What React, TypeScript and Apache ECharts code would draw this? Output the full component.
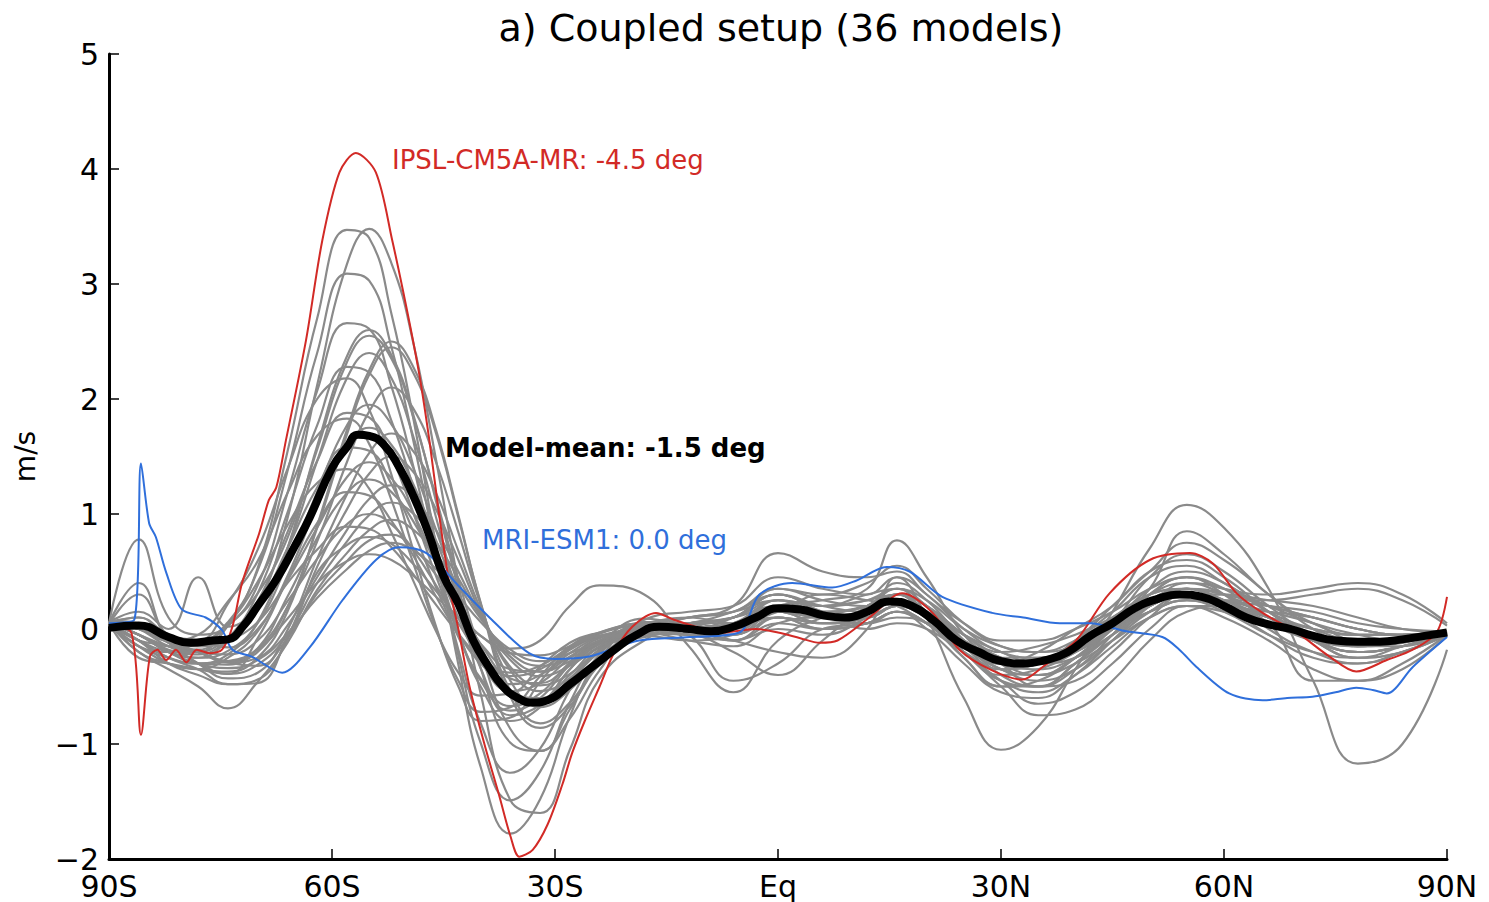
import React, { useEffect, useRef } from "react";
import * as echarts from "echarts";

// latitude grid for the grey model curves
const latGrid = [-90,-86,-82,-78,-74,-70,-66,-62,-58,-55,-52,-49,-46,-43,-40,-36,-32,-28,-24,-18,-12,-6,0,6,12,16,20,25,30,35,40,45,50,55,60,66,72,78,84,90];

const gray01 = [0.06,0.02,-0.12,-0.18,0.03,0.53,1.54,2.70,3.47,3.40,2.74,1.81,0.73,-0.31,-1.20,-1.78,-1.48,-0.76,-0.26,0.03,0.0,0.1,0.3,0.2,0.25,0.35,0.2,-0.1,-0.35,-0.4,-0.25,0.0,0.3,0.45,0.35,0.1,-0.1,-0.2,-0.15,-0.05];
const gray02 = [0.04,-0.05,-0.2,-0.25,-0.1,0.2,0.96,2.12,3.17,3.48,3.18,2.47,1.47,0.40,-0.56,-1.49,-1.60,-1.05,-0.43,-0.10,0.05,0.0,0.15,0.05,0.1,0.2,0.1,-0.2,-0.4,-0.35,-0.2,0.05,0.35,0.5,0.4,0.15,0.0,-0.1,-0.1,-0.02];
const gray03 = [0.05,0.1,-0.05,-0.1,0.06,0.51,1.37,2.40,3.09,3.03,2.45,1.62,0.67,-0.23,-0.99,-1.49,-1.24,-0.64,-0.22,0.08,0.15,0.2,0.45,0.35,0.3,0.45,0.3,0.0,-0.2,-0.25,-0.15,0.0,0.2,0.3,0.2,0.05,-0.05,-0.1,-0.08,-0.03];
const gray04 = [0.05,0.78,0.1,-0.05,0.03,0.38,1.18,2.07,2.66,2.61,2.11,1.40,0.58,-0.18,-0.82,-1.25,-1.04,-0.53,-0.18,-0.01,-0.05,-0.1,0.1,0.0,0.05,0.15,0.0,-0.3,-0.55,-0.6,-0.4,-0.1,0.2,0.4,0.35,0.2,0.05,-0.05,-0.1,-0.05];
const gray05 = [0.03,-0.1,-0.25,-0.3,-0.22,0.06,0.70,1.59,2.37,2.6,2.38,1.85,1.11,0.35,-0.34,-0.99,-1.06,-0.70,-0.29,0.02,0.1,0.15,0.35,0.3,0.4,0.55,0.35,0.05,-0.15,-0.2,-0.1,0.1,0.3,0.35,0.25,0.1,-0.05,-0.15,-0.1,-0.02];
const gray06 = [0.07,0.05,-0.08,-0.12,0.03,0.31,0.79,1.56,2.32,2.55,2.35,1.83,1.14,0.43,-0.20,-0.87,-1.06,-0.78,-0.36,0.06,0.05,-0.1,0.0,-0.05,0.1,0.25,0.15,-0.15,-0.35,-0.45,-0.35,-0.1,0.15,0.3,0.3,0.25,0.2,0.1,0.0,-0.03];
const gray07 = [0.04,-0.15,-0.3,-0.35,-0.37,-0.25,0.15,0.90,1.73,2.25,2.5,2.27,1.73,0.99,0.22,-0.59,-0.86,-0.67,-0.31,-0.04,-0.05,-0.2,-0.4,-0.1,0.2,0.3,0.1,-0.2,-0.45,-0.5,-0.3,0.0,0.25,0.35,0.2,-0.05,-0.25,-0.3,-0.2,-0.05];
const gray08 = [0.05,0.0,-0.15,-0.2,-0.28,-0.2,0.19,0.88,1.69,2.21,2.45,2.22,1.70,0.97,0.23,-0.54,-0.82,-0.64,-0.30,0.01,0.05,0.15,0.3,0.15,0.1,0.2,0.15,-0.05,-0.2,-0.3,-0.25,-0.05,0.2,0.3,0.25,0.15,0.05,-0.1,-0.1,-0.04];
const gray09 = [0.06,0.15,0.0,0.45,0.02,0.19,0.70,1.46,2.18,2.4,2.18,1.66,0.97,0.24,-0.34,-0.75,-0.66,-0.35,-0.12,0.09,0.0,-0.1,-0.2,-0.25,0.0,0.45,0.1,-0.6,-1.05,-0.85,-0.35,0.15,0.7,1.08,0.88,0.35,-0.45,-1.17,-1.0,-0.18];
const gray10 = [0.05,-0.05,-0.18,-0.22,-0.08,0.31,1.01,1.77,2.28,2.23,1.81,1.22,0.57,-0.02,-0.50,-0.80,-0.68,-0.35,-0.12,-0.06,0.0,0.05,0.2,0.1,0.15,0.3,0.15,-0.15,-0.3,-0.3,-0.2,0.0,0.25,0.35,0.3,0.1,-0.05,-0.15,-0.12,-0.03];
const gray11 = [0.04,0.05,-0.1,-0.1,0.22,0.69,1.39,2.0,2.18,1.91,1.34,0.67,0.02,-0.50,-0.80,-0.77,-0.46,-0.17,-0.04,0.05,0.1,0.05,0.15,0.3,0.25,0.2,0.05,-0.15,-0.3,-0.2,0.0,0.2,0.5,0.6,0.45,0.15,-0.1,-0.25,-0.2,-0.05];
const gray12 = [0.05,0.4,-0.1,-0.2,-0.28,-0.17,0.19,0.76,1.45,1.89,2.1,1.91,1.45,0.84,0.21,-0.45,-0.68,-0.53,-0.25,-0.03,-0.1,-0.15,0.05,0.1,0.05,0.1,0.05,-0.2,-0.45,-0.65,-0.55,-0.3,0.0,0.2,0.2,0.1,0.0,-0.05,-0.05,-0.02];
const gray13 = [0.06,-0.1,-0.2,-0.25,-0.19,0.05,0.57,1.19,1.77,1.95,1.78,1.39,0.86,0.32,-0.16,-0.59,-0.65,-0.43,-0.18,0.03,0.05,0.1,0.35,0.25,0.2,0.3,0.2,-0.05,-0.25,-0.3,-0.15,0.05,0.3,0.4,0.3,0.1,-0.1,-0.2,-0.15,-0.04];
const gray14 = [0.05,0.05,-0.05,-0.15,-0.1,0.24,0.84,1.46,1.88,1.84,1.50,1.00,0.46,-0.04,-0.45,-0.71,-0.60,-0.31,-0.11,-0.01,0.05,0.05,0.25,0.2,0.3,0.35,0.1,-0.25,-0.5,-0.45,-0.25,0.05,0.45,0.65,0.5,0.2,-0.05,-0.15,-0.1,-0.02];
const gray15 = [0.04,0.0,-0.1,-0.05,0.24,0.59,1.18,1.68,1.83,1.61,1.12,0.56,0.0,-0.45,-0.72,-0.68,-0.41,-0.15,-0.03,0.05,-0.05,-0.05,0.15,0.05,0.1,0.2,0.1,-0.1,-0.25,-0.3,-0.2,0.0,0.15,0.25,0.2,0.15,0.1,0.0,-0.05,-0.03];
const gray16 = [0.05,-0.2,-0.3,-0.35,-0.25,-0.02,0.46,1.07,1.59,1.75,1.60,1.25,0.77,0.28,-0.15,-0.55,-0.60,-0.40,-0.16,-0.07,0.0,0.05,0.25,0.15,0.2,0.4,0.25,-0.1,-0.4,-0.5,-0.35,-0.05,0.3,0.45,0.3,0.0,-0.2,-0.3,-0.2,-0.05];
const gray17 = [0.06,0.1,-0.12,-0.3,-0.43,-0.38,-0.01,0.61,1.17,1.53,1.7,1.54,1.18,0.68,0.17,-0.36,-0.54,-0.43,-0.20,0.03,0.1,0.2,0.66,0.5,0.45,0.5,0.3,0.05,-0.1,-0.1,0.0,0.15,0.35,0.45,0.35,0.3,0.35,0.4,0.3,0.05];
const gray18 = [0.05,-0.05,-0.15,-0.2,-0.07,0.19,0.70,1.23,1.58,1.55,1.26,0.84,0.36,-0.07,-0.43,-0.67,-0.56,-0.29,-0.10,-0.01,-0.05,0.0,0.1,0.0,0.15,0.3,0.2,-0.15,-0.35,-0.3,-0.15,0.0,0.15,0.25,0.15,-0.05,-0.2,-0.25,-0.15,-0.04];
const gray19 = [0.05,-0.1,-0.25,-0.35,-0.48,-0.44,-0.09,0.54,1.04,1.35,1.5,1.36,1.04,0.60,0.14,-0.33,-0.49,-0.39,-0.18,0.03,0.0,-0.05,0.2,0.25,0.35,0.77,0.45,-0.05,-0.3,-0.5,-0.45,-0.2,0.1,0.3,0.3,0.2,0.1,0.0,-0.05,-0.02];
const gray20 = [0.04,0.3,-0.05,-0.1,-0.16,0.0,0.42,0.88,1.32,1.45,1.31,1.00,0.56,0.10,-0.28,-0.54,-0.47,-0.25,-0.08,-0.01,0.05,0.1,0.2,0.1,0.1,0.2,0.15,-0.05,-0.2,-0.15,-0.05,0.1,0.3,0.35,0.25,0.1,0.0,-0.05,-0.05,-0.03];
const gray21 = [0.05,-0.15,-0.2,-0.2,0.04,0.41,0.90,1.27,1.39,1.22,0.84,0.41,-0.02,-0.38,-0.58,-0.56,-0.33,-0.12,-0.03,0.05,-0.05,-0.45,-0.3,0.0,0.05,0.15,0.05,-0.2,-0.5,-0.75,-0.7,-0.45,-0.1,0.15,0.2,0.1,-0.05,-0.15,-0.1,-0.04];
const gray22 = [0.06,-0.05,-0.2,-0.3,-0.31,-0.17,0.28,0.79,1.18,1.3,1.19,0.93,0.57,0.19,-0.13,-0.43,-0.47,-0.31,-0.13,-0.02,0.05,0.1,0.3,0.2,0.15,0.25,0.15,-0.1,-0.3,-0.3,-0.1,0.15,0.45,0.55,0.4,0.15,-0.1,-0.25,-0.2,-0.05];
const gray23 = [0.05,0.0,-0.1,-0.2,-0.29,-0.25,0.03,0.45,0.86,1.13,1.25,1.14,0.86,0.50,0.12,-0.27,-0.41,-0.32,-0.15,0.03,0.0,0.0,0.15,0.1,0.15,0.3,0.2,-0.1,-0.3,-0.4,-0.3,-0.1,0.1,0.2,0.15,0.05,-0.1,-0.2,-0.15,-0.04];
const gray24 = [0.05,-0.25,-0.3,-0.35,-0.39,-0.08,0.43,0.92,1.19,1.16,0.94,0.63,0.28,-0.04,-0.30,-0.48,-0.40,-0.21,-0.07,0.0,0.1,0.15,0.25,0.15,0.0,0.05,0.0,-0.2,-0.35,-0.3,-0.1,0.2,0.5,0.75,0.6,0.3,0.0,-0.15,-0.15,-0.03];
const gray25 = [0.04,-0.1,-0.15,-0.3,-0.39,-0.31,-0.05,0.40,0.76,0.99,1.1,1.0,0.76,0.44,0.11,-0.24,-0.37,-0.28,-0.13,0.03,0.0,-0.1,0.05,0.0,0.05,0.15,0.05,-0.2,-0.45,-0.55,-0.4,-0.15,0.1,0.2,0.1,-0.1,-0.35,-0.45,-0.35,-0.06];
const gray26 = [0.05,0.05,-0.1,-0.2,-0.22,-0.1,0.24,0.61,0.91,1.0,0.91,0.68,0.38,0.05,-0.22,-0.41,-0.35,-0.18,-0.06,0.0,0.05,0.1,0.25,0.15,0.2,0.35,0.25,0.0,-0.15,-0.2,-0.15,0.0,0.2,0.3,0.25,0.2,0.15,0.05,0.0,-0.02];
const gray27 = [0.05,-0.2,-0.35,-0.5,-0.69,-0.46,-0.12,0.34,0.66,0.86,0.95,0.86,0.65,0.38,0.09,-0.21,-0.32,-0.25,-0.12,0.04,-0.05,-0.05,0.1,0.05,0.05,0.15,0.05,-0.25,-0.5,-0.5,-0.3,-0.05,0.2,0.3,0.2,0.05,-0.1,-0.2,-0.15,-0.04];
const gray28 = [0.06,-0.05,-0.15,-0.15,-0.10,0.06,0.40,0.69,0.89,0.87,0.71,0.47,0.21,-0.04,-0.25,-0.38,-0.32,-0.16,-0.06,0.0,0.0,0.05,0.2,0.15,0.2,0.3,0.15,-0.1,-0.25,-0.25,-0.15,0.05,0.35,0.85,0.65,0.3,0.05,-0.05,-0.05,-0.02];
const gray29 = [0.05,0.0,-0.1,-0.2,-0.29,-0.32,-0.08,0.31,0.59,0.77,0.82,0.70,0.47,0.18,-0.06,-0.17,-0.1,0.2,0.38,0.3,-0.15,-0.55,-0.1,0.1,0.2,0.3,0.1,-0.15,-0.3,-0.3,-0.15,0.05,0.25,0.35,0.25,0.05,-0.1,-0.15,-0.1,-0.03];
const gray30 = [0.05,-0.1,-0.3,-0.4,-0.48,-0.47,-0.07,0.49,0.73,0.8,0.74,0.56,0.33,0.09,-0.13,-0.35,-0.37,-0.24,-0.10,-0.01,0.0,0.05,0.1,0.05,0.1,0.2,0.1,-0.15,-0.35,-0.4,-0.25,0.0,0.2,0.3,0.2,0.05,-0.45,-0.45,-0.3,-0.05];
const gray31 = [0.05,-0.05,-0.2,-0.3,-0.34,-0.27,-0.04,0.27,0.52,0.68,0.75,0.68,0.52,0.29,0.06,-0.18,-0.28,-0.21,-0.10,0.04,0.05,0.1,0.3,0.2,0.25,0.3,0.2,-0.05,-0.25,-0.3,-0.2,0.0,0.25,0.35,0.3,0.2,0.1,0.0,-0.05,-0.02];
const gray32 = [0.04,-0.15,-0.25,-0.3,-0.28,-0.18,0.09,0.40,0.59,0.65,0.60,0.46,0.28,0.10,-0.06,-0.21,-0.23,-0.15,-0.06,-0.06,-0.1,-0.05,0.15,0.1,0.1,0.2,0.1,-0.15,-0.3,-0.35,-0.25,-0.05,0.15,0.25,0.25,0.25,0.3,0.35,0.25,0.03];

const grayModels = [gray01,gray02,gray03,gray04,gray05,gray06,gray07,gray08,gray09,gray10,gray11,gray12,gray13,gray14,gray15,gray16,gray17,gray18,gray19,gray20,gray21,gray22,gray23,gray24,gray25,gray26,gray27,gray28,gray29,gray30,gray31,gray32];

// IPSL-CM5A-MR (red)
const ipslLat = [-90,-87,-85.7,-84.5,-83.5,-82.3,-81,-79.6,-78.2,-76.5,-74.8,-73.4,-72.1,-69.8,-68.5,-67.5,-66.2,-63.5,-61.3,-59,-56.8,-54.1,-51.9,-50,-48.3,-46.9,-45.6,-44,-43,-41.5,-39.5,-37.5,-36,-34.8,-33,-31,-29,-27.7,-26,-24,-22,-19.6,-16.4,-14,-10,-7.5,-3,0,3,5.6,8,12.3,16.7,20.8,24.4,28.8,32.9,35.6,40.1,44.6,50,55.4,58.5,61.7,65.2,69.8,74.2,77.8,81.9,85.4,88.6,90];
const ipslVal = [0.03,-0.03,-0.92,-0.24,-0.18,-0.27,-0.18,-0.29,-0.18,-0.21,-0.18,0.02,0.4,0.83,1.12,1.23,1.64,2.51,3.38,3.97,4.14,3.97,3.38,2.8,2.23,1.64,1.0,0.3,0.0,-0.5,-1.0,-1.45,-1.8,-1.98,-1.92,-1.7,-1.35,-1.08,-0.8,-0.5,-0.2,0.02,0.14,0.08,0.0,-0.03,0.0,-0.03,-0.08,-0.12,-0.1,0.1,0.31,0.14,-0.18,-0.36,-0.44,-0.33,-0.1,0.31,0.6,0.66,0.57,0.31,0.14,-0.03,-0.24,-0.37,-0.27,-0.18,-0.03,0.28];

// MRI-ESM1 (blue)
const mriLat = [-90,-86.6,-85.7,-84.6,-83.7,-82.3,-80.2,-77,-74.8,-73.4,-70.8,-66.7,-63,-58.6,-54.1,-51,-47.3,-42.9,-38.5,-33.5,-30,-25.4,-18.7,-11.9,-5.2,-2.5,1.9,7.3,10.5,14.6,17.7,22.1,28.8,33,37.9,42,46.9,51.7,54,56.3,60.7,65.2,68.5,71.9,75,77.8,80,81.9,85.4,90];
const mriVal = [0.05,0.08,1.44,0.92,0.8,0.49,0.17,0.1,-0.01,-0.18,-0.24,-0.38,-0.16,0.25,0.6,0.71,0.66,0.37,0.08,-0.21,-0.26,-0.24,-0.1,-0.07,-0.03,0.3,0.4,0.36,0.42,0.54,0.5,0.28,0.14,0.1,0.05,0.05,-0.02,-0.07,-0.18,-0.33,-0.56,-0.62,-0.6,-0.59,-0.55,-0.51,-0.53,-0.56,-0.33,-0.07];

// Model mean (black)
const meanLat = [-90,-86,-82,-79,-76,-74,-72,-70,-67.5,-65,-63,-60,-58,-56.5,-55,-53,-51,-49,-47,-45,-43,-41,-39,-37,-35,-33,-31,-28,-25,-22,-19,-16,-12,-9,-6,-3,0,3,6,9,12,15,18,21,24,27,30,33,36,39,42,45,48,51,54,57,60,63,66,69,72,75,78,81,84,87,90];
const meanVal = [0.01,0.03,-0.07,-0.12,-0.1,-0.09,0.02,0.2,0.43,0.72,0.97,1.4,1.58,1.69,1.68,1.6,1.41,1.15,0.83,0.46,0.22,-0.1,-0.32,-0.5,-0.6,-0.64,-0.62,-0.48,-0.33,-0.18,-0.05,0.02,0.0,-0.02,0.02,0.1,0.18,0.17,0.12,0.1,0.15,0.24,0.2,0.07,-0.1,-0.2,-0.28,-0.3,-0.27,-0.2,-0.06,0.05,0.18,0.26,0.3,0.28,0.2,0.1,0.04,0.0,-0.06,-0.1,-0.11,-0.11,-0.09,-0.06,-0.03];

const xTickValues = [-90, -60, -30, 0, 30, 60, 90];
const xTickLabels = ["90S", "60S", "30S", "Eq", "30N", "60N", "90N"];

const titleText = "a) Coupled setup (36 models)";
const ipslLabel = "IPSL-CM5A-MR: -4.5 deg";
const meanLabel = "Model-mean: -1.5 deg";
const mriLabel = "MRI-ESM1: 0.0 deg";

const RED = "#d22a26";
const BLUE = "#2f6fdb";
const GREY = "#8a8a8a";
const FONT = "DejaVu Sans";

const pairs = (xs: number[], ys: number[]) => xs.map((x, i) => [x, ys[i]]);

export default function App() {
  const ref = useRef<HTMLDivElement>(null);
  useEffect(() => {
    if (!ref.current) return;
    const chart = echarts.init(ref.current, undefined, { renderer: "svg" });
    const lineBase = {
      type: "line" as const,
      showSymbol: false,
      symbol: "none",
      silent: true,
    };
    const graySeries = grayModels.map((g, i) => ({
      ...lineBase,
      name: "model" + (i + 1),
      data: pairs(latGrid, g),
      smooth: 0.45,
      lineStyle: { color: GREY, width: 2.2 },
      z: 2,
    }));
    chart.setOption({
      animation: false,
      textStyle: { fontFamily: FONT },
      grid: { left: 109, right: 42, top: 54, bottom: 43 },
      xAxis: {
        type: "value",
        min: -90,
        max: 90,
        interval: 30,
        splitLine: { show: false },
        axisLine: { onZero: false, lineStyle: { color: "#000", width: 3 } },
        axisTick: { inside: true, length: 10, lineStyle: { color: "#000", width: 1.5 } },
        axisLabel: {
          fontSize: 30,
          color: "#000",
          margin: 12,
          fontFamily: FONT,
          formatter: (v: number) => {
            const i = xTickValues.indexOf(v);
            return i >= 0 ? xTickLabels[i] : "";
          },
        },
      },
      yAxis: {
        type: "value",
        min: -2,
        max: 5,
        interval: 1,
        splitLine: { show: false },
        axisLine: { show: true, onZero: false, lineStyle: { color: "#000", width: 3 } },
        axisTick: { show: true, inside: true, length: 10, lineStyle: { color: "#000", width: 1.5 } },
        axisLabel: {
          fontSize: 30,
          color: "#000",
          margin: 10,
          fontFamily: FONT,
          formatter: (v: number) => (v < 0 ? "\u2212" + Math.abs(v) : String(v)),
        },
        name: "m/s",
        nameLocation: "middle",
        nameGap: 70,
        nameRotate: 90,
        nameTextStyle: { fontSize: 28, color: "#000", fontFamily: FONT },
      },
      series: [
        ...graySeries,
        {
          ...lineBase,
          name: "IPSL-CM5A-MR",
          data: pairs(ipslLat, ipslVal),
          smooth: 0.3,
          lineStyle: { color: RED, width: 2 },
          z: 3,
        },
        {
          ...lineBase,
          name: "MRI-ESM1",
          data: pairs(mriLat, mriVal),
          smooth: 0.3,
          lineStyle: { color: BLUE, width: 2 },
          z: 3,
        },
        {
          ...lineBase,
          name: "Model-mean",
          data: pairs(meanLat, meanVal),
          smooth: 0.5,
          lineStyle: { color: "#000", width: 8 },
          z: 4,
        },
      ],
      graphic: [
        {
          type: "text",
          x: 781,
          y: 28,
          style: { text: titleText, fontSize: 38, fontFamily: FONT, fill: "#000", align: "center", verticalAlign: "middle" },
        },
        {
          type: "text",
          x: 392,
          y: 160,
          style: { text: ipslLabel, fontSize: 26, fontFamily: FONT, fill: RED, align: "left", verticalAlign: "middle" },
        },
        {
          type: "text",
          x: 445,
          y: 448,
          style: { text: meanLabel, fontSize: 26, fontWeight: "bold", fontFamily: FONT, fill: "#000", align: "left", verticalAlign: "middle" },
        },
        {
          type: "text",
          x: 482,
          y: 540,
          style: { text: mriLabel, fontSize: 26, fontFamily: FONT, fill: BLUE, align: "left", verticalAlign: "middle" },
        },
      ],
    });
    return () => chart.dispose();
  }, []);
  return (
    <div
      ref={ref}
      style={{ position: "absolute", left: 0, top: 0, width: 1489, height: 902, background: "#fff" }}
    />
  );
}
